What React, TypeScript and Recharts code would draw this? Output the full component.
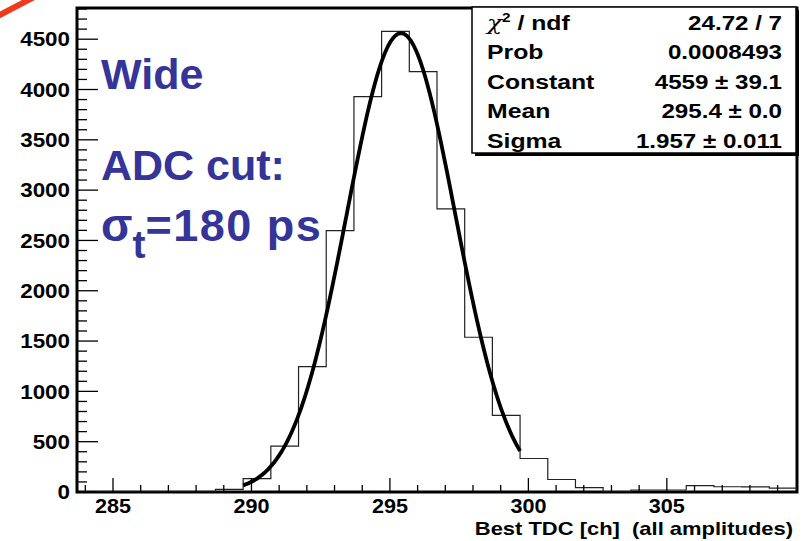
import { ComposedChart, Line, XAxis, YAxis, ReferenceArea } from 'recharts';

// histogram: 1-channel bins, first left edge at 283.7
const binStart = 283.7;
const binWidth = 1;
const counts = [
  0, 0, 0, 0, 0, 27, 133, 455, 1245, 2597, 3929, 4577, 4178, 2813, 1538, 761,
  333, 124, 44, 0, 20, 20, 64, 52, 50, 38,
];

// gaussian fit results (from the stats box)
const fitConstant = 4559;
const fitMean = 295.4;
const fitSigma = 1.957;
const fitRange = [289.7, 299.7];

const xTicks = Array.from({ length: 26 }, (_, i) => 284 + i);
const yTicks = Array.from({ length: 49 }, (_, i) => i * 100);

const statsRows = [
  { label: 'ndf', value: '24.72 / 7' },
  { label: 'Prob', value: '0.0008493' },
  { label: 'Constant', value: `${fitConstant} \u00b1 39.1` },
  { label: 'Mean', value: `${fitMean} \u00b1 0.0` },
  { label: 'Sigma', value: `${fitSigma} \u00b1 0.011` },
];

const histData = counts
  .map((c, i) => ({ x: +(binStart + i * binWidth).toFixed(2), y: c }))
  .concat([
    {
      x: +(binStart + counts.length * binWidth).toFixed(2),
      y: counts[counts.length - 1],
    },
  ]);

const fitData: { x: number; y: number }[] = [];
for (let x = fitRange[0]; x <= fitRange[1] + 1e-9; x += 0.05) {
  const z = (x - fitMean) / fitSigma;
  fitData.push({ x, y: fitConstant * Math.exp(-0.5 * z * z) });
}

const FONT = '"Liberation Sans", Arial, sans-serif';
const BLUE = '#343499';

function XTick(props: any) {
  const { x, y, payload } = props;
  const v = payload.value;
  const major = v % 5 === 0;
  const axisY = y - 6;
  return (
    <g>
      <line x1={x} x2={x} y1={axisY} y2={axisY - (major ? 14 : 7)} stroke="#000" strokeWidth={1.3} />
      {major && (
        <text
          transform={`translate(${x},${y + 1}) scale(1.08,1)`}
          dy="0.72em"
          textAnchor="middle"
          fontFamily={FONT}
          fontWeight="bold"
          fontSize={20}
          fill="#000"
        >
          {v}
        </text>
      )}
    </g>
  );
}

function YTick(props: any) {
  const { x, y, payload } = props;
  const v = payload.value;
  const major = v % 500 === 0;
  const axisX = x + 7;
  return (
    <g>
      <line x1={axisX} x2={axisX + (major ? 21 : 10)} y1={y} y2={y} stroke="#000" strokeWidth={1.3} />
      {major && (
        <text
          transform={`translate(${x},${y}) scale(1.12,1)`}
          dy="0.36em"
          textAnchor="end"
          fontFamily={FONT}
          fontWeight="bold"
          fontSize={20}
          fill="#000"
        >
          {v}
        </text>
      )}
    </g>
  );
}

export default function App() {
  return (
    <div style={{ position: 'absolute', left: 0, top: 0, width: 805, height: 541, background: '#fff' }}>
      <ComposedChart width={805} height={541} margin={{ top: 8, right: 8, bottom: 0, left: 0 }}>
        <XAxis
          dataKey="x"
          type="number"
          domain={[283.7, 309.7]}
          allowDataOverflow
          ticks={xTicks}
          interval={0}
          height={49}
          tickSize={0}
          tickMargin={6}
          axisLine={false}
          tickLine={false}
          tick={(p: any) => <XTick {...p} />}
        />
        <YAxis
          type="number"
          domain={[0, 4810]}
          allowDataOverflow
          ticks={yTicks}
          interval={0}
          width={77}
          tickSize={0}
          tickMargin={7}
          axisLine={false}
          tickLine={false}
          tick={(p: any) => <YTick {...p} />}
        />
        <Line
          data={histData}
          dataKey="y"
          type="stepAfter"
          stroke="#222"
          strokeWidth={1.2}
          dot={false}
          isAnimationActive={false}
        />
        <Line
          data={fitData}
          dataKey="y"
          type="monotone"
          stroke="#000"
          strokeWidth={3.8}
          dot={false}
          isAnimationActive={false}
        />
        <ReferenceArea
          x1={283.7}
          x2={309.7}
          y1={0}
          y2={4810}
          fill="none"
          stroke="#000"
          strokeWidth={3}
          ifOverflow="visible"
        />
      </ComposedChart>

      <svg width={805} height={541} style={{ position: 'absolute', left: 0, top: 0, pointerEvents: 'none' }}>
        <line x1={-2} y1={16} x2={36} y2={-4} stroke="#f03a1c" strokeWidth={6} />

        {/* stats box */}
        <rect x={475} y={10} width={324} height={146} fill="#000" />
        <rect x={472} y={7} width={324} height={146} fill="#fff" stroke="#000" strokeWidth={1.5} />
        {statsRows.map((r, i) => {
          const cy = 22 + i * 29.5;
          return (
            <g key={r.label} fontFamily={FONT} fontWeight="bold" fontSize={21} fill="#000">
              <text transform={`translate(487,${cy}) scale(1.18,1)`} dy="0.36em">
                {i === 0 ? (
                  <>
                    <tspan fontFamily="'DejaVu Serif', serif" fontStyle="italic" fontWeight="normal">
                      {'\u03c7'}
                    </tspan>
                    <tspan fontSize={13} dy={-8}>2</tspan>
                    <tspan dy={8} style={{ whiteSpace: 'pre' }}>{' / ' + r.label}</tspan>
                  </>
                ) : (
                  r.label
                )}
              </text>
              <text transform={`translate(782,${cy}) scale(1.15,1)`} dy="0.36em" textAnchor="end">
                {r.value}
              </text>
            </g>
          );
        })}

        {/* axis title */}
        <text
          transform="translate(793,529) scale(1.22,1)"
          dy="0.36em"
          textAnchor="end"
          fontFamily={FONT}
          fontWeight="bold"
          fontSize={18}
          fill="#000"
          style={{ whiteSpace: 'pre' }}
        >
          {'Best TDC [ch]  (all amplitudes)'}
        </text>

        {/* slide annotations */}
        <g fontFamily={FONT} fontWeight="bold" fontSize={43} fill={BLUE}>
          <text x={101} y={89}>Wide</text>
          <text x={101} y={180}>ADC cut:</text>
          <text x={101} y={241}>
            <tspan fontSize={46}>{'\u03c3'}</tspan>
            <tspan fontSize={39} dy={17}>t</tspan>
            <tspan dy={-17} fontSize={45} letterSpacing={1.5}>=180 ps</tspan>
          </text>
        </g>
      </svg>
    </div>
  );
}
